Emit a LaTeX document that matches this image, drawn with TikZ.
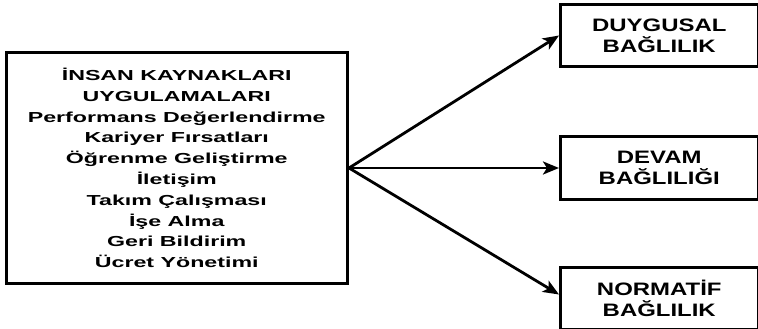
\documentclass[tikz,border=0pt]{standalone}
\usepackage{fontspec}
\setmainfont{Liberation Sans}[FakeStretch=1.6]
\newfontfamily\widesans{Liberation Sans}[FakeStretch=1.33]
\usetikzlibrary{arrows.meta}

\tikzset{
  box/.style={draw=black, line width=3pt, fill=white, align=center, inner sep=0pt},
  listtext/.style={font=\fontsize{14.5}{20.8}\selectfont\bfseries},
  headtext/.style={font=\widesans\fontsize{18}{21.2}\selectfont\bfseries},
  link/.style={line width=2.8pt, -{Stealth[length=16pt, width=13pt, inset=4pt]}}
}

\begin{document}
\begin{tikzpicture}[x=1pt, y=-1pt]
  \useasboundingbox (0,0) rectangle (758,329);

  % practices box on the left
  \node[box, listtext, minimum width=341.5pt, minimum height=231pt] (hr) at (176.75,168)
    {İNSAN KAYNAKLARI\\UYGULAMALARI\\Performans Değerlendirme\\Kariyer Fırsatları\\
     Öğrenme Geliştirme\\İletişim\\Takım Çalışması\\İşe Alma\\Geri Bildirim\\Ücret Yönetimi};

  % commitment types on the right
  \node[box, headtext, minimum width=197.5pt, minimum height=62pt] (aff) at (659.25,35.5)
    {DUYGUSAL\\BAĞLILIK};
  \node[box, headtext, minimum width=197.5pt, minimum height=63pt] (cont) at (659.25,168)
    {DEVAM\\BAĞLILIĞI};
  \node[box, headtext, minimum width=197.5pt, minimum height=62pt] (norm) at (659.25,298.5)
    {NORMATİF\\BAĞLILIK};

  % arrows
  \draw[link] (hr.east) -- (aff.west);
  \draw[link] (hr.east) -- (cont.west);
  \draw[link] (hr.east) -- ([yshift=4pt]norm.west);
\end{tikzpicture}
\end{document}
